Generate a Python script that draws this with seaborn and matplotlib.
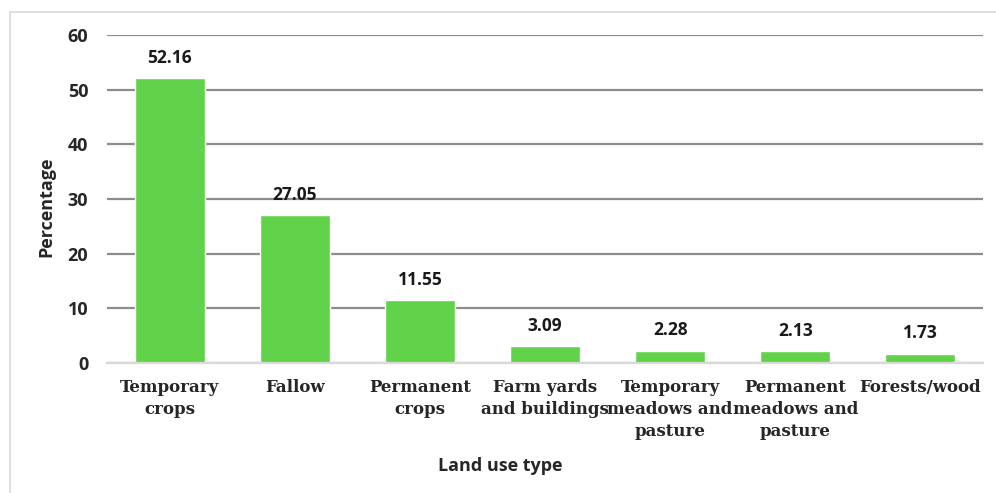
import matplotlib
matplotlib.use("Agg")
import matplotlib.pyplot as plt
from matplotlib.patches import Rectangle
import seaborn as sns
import pandas as pd

categories = ["Temporary\ncrops", "Fallow", "Permanent\ncrops", "Farm yards\nand buildings",
              "Temporary\nmeadows and\npasture", "Permanent\nmeadows and\npasture", "Forests/wood"]
values = [52.16, 27.05, 11.55, 3.09, 2.28, 2.13, 1.73]
yticks = [0, 10, 20, 30, 40, 50, 60]

df = pd.DataFrame({"Land use type": categories, "Percentage": values})

sns.set_theme(style="white")
plt.rcParams["font.family"] = ["Open Sans", "DejaVu Sans"]

fig = plt.figure(figsize=(9.96, 4.93), dpi=100)
ax = fig.add_axes([107 / 996, 1 - 363 / 493, (983 - 107) / 996, (363 - 35) / 493])

# light outer frame around the chart area
fig.patches.append(Rectangle((10 / 996, -0.05), 1.1, 1 - 12 / 493 + 0.05, transform=fig.transFigure,
                             fill=False, edgecolor="#d9d9d9", linewidth=1.2, zorder=0))

sns.barplot(data=df, x="Land use type", y="Percentage", color="#62D24B", width=0.56,
            saturation=1, ax=ax, zorder=3)

ax.set_ylim(0, 60)
ax.set_xlim(-0.5, len(categories) - 0.5)
ax.set_yticks(yticks)
ax.yaxis.grid(True, color="#8c8c8c", linewidth=1.6)
ax.set_axisbelow(True)
for s in ["top", "right", "left"]:
    ax.spines[s].set_visible(False)
ax.spines["bottom"].set_color("#d9d9d9")
ax.spines["bottom"].set_linewidth(1.6)
ax.spines["bottom"].set_zorder(4)

ax.tick_params(axis="y", length=0, pad=13.5, labelsize=13)
ax.tick_params(axis="x", length=0, pad=11.5)
for t in ax.get_yticklabels():
    t.set_fontweight("bold")
ax.set_xticks(range(len(categories)))
ax.set_xticklabels(categories, fontfamily=["DejaVu Serif"], fontweight="bold",
                   fontsize=12, linespacing=1.4)

for i, v in enumerate(values):
    ax.annotate(f"{v:.2f}", (i, v), xytext=(0, 8), textcoords="offset points",
                ha="center", va="bottom", fontsize=12.5, fontweight="bold", color="#1a1a1a")

ax.set_ylabel("")
ax.set_xlabel("")
fig.text(46 / 996, 1 - 207 / 493, "Percentage", rotation=90, ha="center", va="center",
         fontsize=13, fontweight="bold")
fig.text(500 / 996, 1 - 466 / 493, "Land use type", ha="center", va="center",
         fontsize=13, fontweight="bold")

fig.savefig("out.png", dpi=100)
